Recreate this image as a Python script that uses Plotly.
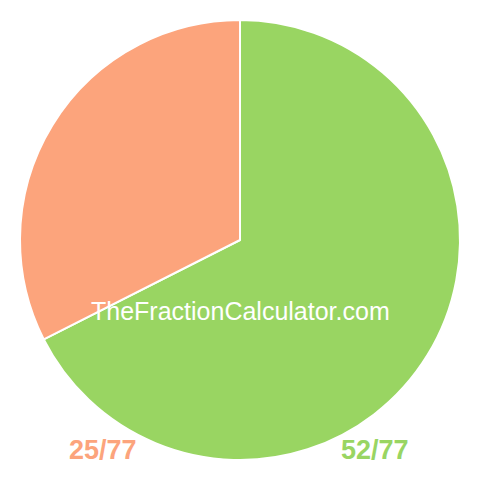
import plotly.graph_objects as go

# pie slices, clockwise from 12 o'clock
labels = ["52/77", "25/77"]
values = [52, 25]
colors = ["#99D562", "#FCA47C"]

watermark = "TheFractionCalculator.com"

W = H = 480
OFF = 8  # page body margin shifts the figure, so place things 8px earlier


def px(x):
    return (x - OFF) / W


def py(y):
    return 1 - (y - OFF) / H


fig = go.Figure()

fig.add_trace(go.Pie(labels=labels, values=values, sort=False, direction="clockwise",
                     rotation=0, textinfo="none", hoverinfo="label",
                     marker=dict(colors=colors, line=dict(color="white", width=2)),
                     domain=dict(x=[px(20), px(460)], y=[py(460), py(20)]),
                     showlegend=False))

# watermark across the pie
fig.add_annotation(text=watermark, x=px(240), y=py(311), xref="paper", yref="paper",
                   xanchor="center", yanchor="middle", showarrow=False,
                   font=dict(family="Liberation Sans", size=25, color="white"))

# fraction labels under the pie
label_x = {"25/77": 102.5, "52/77": 375}
for lab, col in zip(labels, colors):
    fig.add_annotation(text="<b>" + lab + "</b>", x=px(label_x[lab]), y=py(449.5),
                       xref="paper", yref="paper", xanchor="center", yanchor="middle",
                       showarrow=False,
                       font=dict(family="Liberation Sans", size=27, color=col))

fig.update_layout(width=W, height=H, margin=dict(l=0, r=0, t=0, b=0),
                  paper_bgcolor="white", plot_bgcolor="white")

fig.write_html("out.html")
